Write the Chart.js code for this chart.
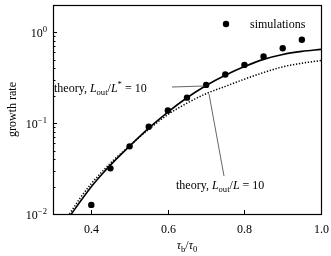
<!DOCTYPE html>
<html><head><meta charset="utf-8">
<script src="https://cdn.jsdelivr.net/npm/chart.js@4/dist/chart.umd.min.js"></script>
<style>html,body{margin:0;padding:0;background:#fff}canvas{display:block}</style>
</head><body>
<canvas id="c" width="331" height="256"></canvas>
<script>
// ---- data ----
const simX = [0.40,0.45,0.50,0.55,0.60,0.65,0.70,0.75,0.80,0.85,0.90,0.95];
const simY = [0.0126,0.0318,0.0556,0.0914,0.138,0.191,0.264,0.344,0.438,0.543,0.667,0.830];
const solidX = [0.348,0.375,0.40,0.425,0.45,0.50,0.55,0.60,0.65,0.70,0.75,0.80,0.85,0.90,0.95,1.00];
const solidY = [0.0100,0.01445,0.0200,0.0266,0.0345,0.0558,0.0881,0.1327,0.1905,0.260,0.337,0.420,0.504,0.571,0.617,0.650];
const dotX = [0.343,0.37,0.40,0.425,0.45,0.50,0.55,0.60,0.65,0.70,0.75,0.80,0.85,0.90,0.95,1.00];
const dotY = [0.0100,0.0148,0.0216,0.0282,0.0363,0.0562,0.0855,0.1245,0.166,0.2113,0.254,0.305,0.361,0.417,0.457,0.489];
const xTicks = [0.4,0.6,0.8,1.0];
const xTickLabels = ['0.4','0.6','0.8','1.0'];
const yTicks = [0.01,0.1,1];
const yTickExp = ['\u22122','\u22121','0'];
const legendLabel = 'simulations';

const FONT = '"Liberation Serif","Times New Roman",serif';
const pts = (xs, ys) => xs.map((x,i)=>({x:x, y:ys[i]}));

function rich(ctx, x, y, segs, size) {
  let cx = x;
  for (const [t, s] of segs) {
    let f = size, dy = 0, it = false;
    if (s === 'i') it = true;
    if (s === 'sub') { f = size*0.72; dy = size*0.28; }
    if (s === 'sup') { f = size*0.72; dy = -size*0.38; }
    ctx.font = (it ? 'italic ' : '') + f + 'px ' + FONT;
    ctx.fillText(t, cx, y + dy);
    cx += ctx.measureText(t).width;
  }
  return cx - x;
}
function richWidth(ctx, segs, size) {
  let w = 0;
  for (const [t, s] of segs) {
    let f = size, it = s === 'i';
    if (s === 'sub' || s === 'sup') f = size*0.72;
    ctx.font = (it ? 'italic ' : '') + f + 'px ' + FONT;
    w += ctx.measureText(t).width;
  }
  return w;
}

const decor = {
  id: 'decor',
  afterDraw(chart) {
    const ctx = chart.ctx, a = chart.chartArea, xs = chart.scales.x, ys = chart.scales.y;
    ctx.save();
    ctx.fillStyle = '#000'; ctx.strokeStyle = '#000';
    ctx.lineWidth = 1.2;
    ctx.strokeRect(Math.round(a.left)+0.5, Math.round(a.top)+0.5, Math.round(a.right-a.left), Math.round(a.bottom-a.top));
    ctx.lineWidth = 1;
    ctx.textAlign = 'center'; ctx.textBaseline = 'alphabetic';
    ctx.font = '12px ' + FONT;
    xTicks.forEach((v,i) => {
      const px = Math.round(xs.getPixelForValue(v)) + 0.5;
      ctx.beginPath(); ctx.moveTo(px, a.bottom); ctx.lineTo(px, a.bottom-4); ctx.stroke();
      ctx.fillText(xTickLabels[i], px, a.bottom + 19);
    });
    yTicks.forEach((v,i) => {
      const py = Math.round(ys.getPixelForValue(v)) + 0.5;
      ctx.beginPath(); ctx.moveTo(a.left, py); ctx.lineTo(a.left+4, py); ctx.stroke();
      for (let m = 2; m <= 9; m++) {
        const mv = v*m;
        if (mv > ys.max) break;
        const mp = Math.round(ys.getPixelForValue(mv)) + 0.5;
        ctx.beginPath(); ctx.moveTo(a.left, mp); ctx.lineTo(a.left+2.5, mp); ctx.stroke();
      }
      ctx.textAlign = 'left';
      const segs = [['10','n'],[yTickExp[i],'sup']];
      const w = richWidth(ctx, segs, 12);
      rich(ctx, a.left - 6 - w, py + 4.5, segs, 12);
    });
    const xt = [['\u03C4','i'],['b','sub'],['/','n'],['\u03C4','i'],['0','sub']];
    const xw = richWidth(ctx, xt, 12);
    ctx.textAlign = 'left';
    rich(ctx, (a.left + a.right)/2 - xw/2, a.bottom + 35, xt, 12);
    ctx.save();
    ctx.translate(16, (a.top + a.bottom)/2);
    ctx.rotate(-Math.PI/2);
    ctx.textAlign = 'center';
    ctx.font = '12px ' + FONT;
    ctx.fillText('growth rate', 0, 0);
    ctx.restore();
    ctx.beginPath(); ctx.arc(a.left + 173, a.top + 19, 3.2, 0, Math.PI*2); ctx.fill();
    ctx.textAlign = 'left';
    ctx.font = '12px ' + FONT;
    ctx.fillText(legendLabel, a.left + 197, a.top + 23);
    rich(ctx, a.left + 1, a.top + 87, [['theory, ','n'],['L','i'],['out','sub'],['/','n'],['L','i'],['*','sup'],[' = 10','n']], 12);
    ctx.strokeStyle = '#555'; ctx.lineWidth = 0.9;
    ctx.beginPath(); ctx.moveTo(a.left + 119, a.top + 82); ctx.lineTo(a.left + 151, a.top + 81); ctx.stroke();
    ctx.beginPath(); ctx.moveTo(a.left + 156, a.top + 89); ctx.lineTo(a.left + 171, a.top + 171); ctx.stroke();
    ctx.fillStyle = '#000';
    rich(ctx, a.left + 123, a.top + 184, [['theory, ','n'],['L','i'],['out','sub'],['/','n'],['L','i'],[' = 10','n']], 12);
    ctx.restore();
  }
};

new Chart(document.getElementById('c'), {
  type: 'scatter',
  data: {
    datasets: [
      { label: 'theory L_out/L* = 10', data: pts(solidX, solidY), showLine: true, borderColor: '#000', borderWidth: 1.6,
        pointRadius: 0, cubicInterpolationMode: 'monotone', fill: false },
      { label: 'theory L_out/L = 10', data: pts(dotX, dotY), showLine: true, borderColor: '#000', borderWidth: 1.5,
        borderDash: [1.3, 1.7], pointRadius: 0, cubicInterpolationMode: 'monotone', fill: false },
      { label: legendLabel, data: pts(simX, simY), showLine: false, pointRadius: 3.2, pointBackgroundColor: '#000',
        pointBorderWidth: 0, borderColor: '#000' }
    ]
  },
  options: {
    responsive: false, animation: false, devicePixelRatio: 1,
    layout: { padding: { left: 53, right: 10, top: 5, bottom: 42 } },
    plugins: { legend: { display: false }, tooltip: { enabled: false } },
    scales: {
      x: { type: 'linear', min: 0.3, max: 1.0, display: false },
      y: { type: 'logarithmic', min: 0.01, max: 2, display: false }
    }
  },
  plugins: [decor]
});
</script>
</body></html>
